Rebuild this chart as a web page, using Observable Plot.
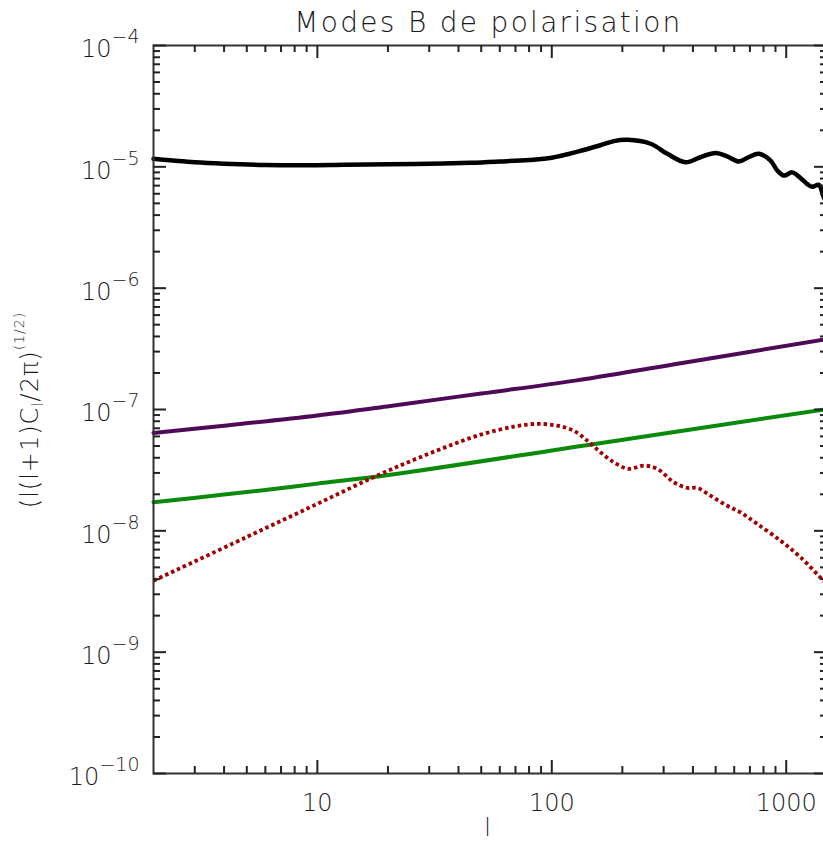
<!DOCTYPE html>
<html><head><meta charset="utf-8">
<script src="https://cdn.jsdelivr.net/npm/d3@7"></script>
<script src="https://cdn.jsdelivr.net/npm/@observablehq/plot@0.6"></script>
<style>
html,body{margin:0;padding:0;background:#fff;overflow:hidden;}
#wrap{width:823px;height:842px;overflow:hidden;position:relative;}
#wrap svg{max-width:none;}
</style></head><body><div id="wrap"></div>
<script>
const title = "Modes B de polarisation";
const xLabel = "l";

// black curve
const lBlack = [2,3,4,6,9,13,20,30,45,60,80,100,130,160,184,210,264,311,372,430,500,560,628,690,764,857,916,978,1061,1150,1231,1292,1378,1442,1500];
const vBlack = [1.164e-5,1.09e-5,1.06e-5,1.035e-5,1.03e-5,1.04e-5,1.05e-5,1.06e-5,1.08e-5,1.107e-5,1.14e-5,1.19e-5,1.34e-5,1.5e-5,1.63e-5,1.67e-5,1.55e-5,1.28e-5,1.09e-5,1.2e-5,1.3e-5,1.22e-5,1.107e-5,1.2e-5,1.28e-5,1.127e-5,9.33e-6,8.48e-6,9.0e-6,8.1e-6,7.2e-6,6.85e-6,7.1e-6,5.7e-6,4.9e-6];

// purple curve
const lPurple = [2,4,10,20.5,50,126,400,1500];
const vPurple = [6.41e-8,7.36e-8,8.93e-8,1.07e-7,1.355e-7,1.73e-7,2.5e-7,3.81e-7];

// green curve
const lGreen = [2,4,6.5,10,20.5,150,1500];
const vGreen = [1.72e-8,1.99e-8,2.21e-8,2.45e-8,2.9e-8,5.18e-8,1.01e-7];

// dotted red curve
const lRed = [2,5,10,18.6,25.8,35.8,49.7,68.9,86.7,105.5,124,141.6,161.4,184,213,247,282,332,379,417,475,560,638,752,945,1151,1442,1500];
const vRed = [3.88e-9,8.9e-9,1.67e-8,2.94e-8,3.85e-8,4.95e-8,6.2e-8,7.23e-8,7.61e-8,7.36e-8,6.69e-8,5.54e-8,4.44e-8,3.67e-8,3.24e-8,3.45e-8,3.24e-8,2.51e-8,2.26e-8,2.26e-8,1.95e-8,1.61e-8,1.42e-8,1.14e-8,8.3e-9,6.05e-9,3.88e-9,3.59e-9];

const xMajor = [10,100,1000];
const xMinor = [3,4,5,6,7,8,9,20,30,40,50,60,70,80,90,200,300,400,500,600,700,800,900];
const yMajor = [1e-10,1e-9,1e-8,1e-7,1e-6,1e-5,1e-4];
const yMinorMult = [2,3,4,5,6,7,8,9];
const yMinor = yMajor.slice(0,-1).flatMap(d => yMinorMult.map(k => k*d));

const toRows = (ls, vs) => ls.map((l,i) => ({l, v: vs[i]}));
const black = toRows(lBlack, vBlack);
const purple = toRows(lPurple, vPurple);
const green = toRows(lGreen, vGreen);
const red = toRows(lRed, vRed);

const FONT = "'DejaVu Sans', 'Liberation Sans', sans-serif";
const sup = {"⁻":"−","⁰":"0","¹":"1","²":"2","³":"3","⁴":"4","⁵":"5","⁶":"6","⁷":"7","⁸":"8","⁹":"9"};
const supInv = Object.fromEntries(Object.entries(sup).map(([a,b]) => [b === "−" ? "-" : b, a]));
const fmtPow = d => "10" + [...String(Math.round(Math.log10(d)))].map(c => supInv[c]).join("");
const AX = "#222";

// layout (pixels)
const W = 828, H = 842, ML = 153, MR = 1, MT = 45, MB = 69;
const PW = W - ML - MR, PH = H - MT - MB;
const MAJ = 13, MIN = 7;
const tk = {stroke: AX, strokeWidth: 2, strokeOpacity: 1};

const chart = Plot.plot({
  width: W, height: H,
  marginLeft: ML, marginRight: MR, marginTop: MT, marginBottom: MB,
  x: {type: "log", domain: [2, 1500], label: null},
  y: {type: "log", domain: [1e-10, 1e-4], label: null},
  style: {fontFamily: FONT, fontSize: "24px", background: "#fff", color: "#1a1a1a"},
  marks: [
    Plot.line(black, {x: "l", y: "v", stroke: "#000", strokeWidth: 4.5, curve: "catmull-rom"}),
    Plot.line(purple, {x: "l", y: "v", stroke: "#4f0a57", strokeWidth: 4, curve: "catmull-rom"}),
    Plot.line(green, {x: "l", y: "v", stroke: "#0a8a0a", strokeWidth: 4, curve: "catmull-rom"}),
    Plot.line(red, {x: "l", y: "v", stroke: "#a00000", strokeWidth: 3.8, strokeDasharray: "3.5 3", strokeLinecap: "butt", curve: "catmull-rom"}),
    Plot.frame({stroke: "#333", strokeWidth: 2}),
    Plot.tickX(xMajor, {x: d => d, insetTop: PH - MAJ, ...tk}),
    Plot.tickX(xMinor, {x: d => d, insetTop: PH - MIN, ...tk}),
    Plot.tickX(xMajor, {x: d => d, insetBottom: PH - MAJ, ...tk}),
    Plot.tickX(xMinor, {x: d => d, insetBottom: PH - MIN, ...tk}),
    Plot.tickY(yMajor, {y: d => d, insetRight: PW - MAJ, ...tk}),
    Plot.tickY(yMinor, {y: d => d, insetRight: PW - MIN, ...tk}),
    Plot.tickY(yMajor, {y: d => d, insetLeft: PW - MAJ, ...tk}),
    Plot.tickY(yMinor, {y: d => d, insetLeft: PW - MIN, ...tk}),
    Plot.axisX({ticks: xMajor, anchor: "bottom", tickSize: 0, tickPadding: 20.5, tickFormat: d => String(d), label: null, fontWeight: 200}),
    Plot.axisY({ticks: yMajor, anchor: "left", tickSize: 0, tickPadding: 14, dy: 4, tickFormat: fmtPow, label: null, fontWeight: 200}),
    Plot.text([title], {text: d => d, frameAnchor: "top", lineAnchor: "middle", dx: -2, dy: -22.5, fontSize: 28, fontWeight: 200}),
    Plot.text([xLabel], {text: d => d, frameAnchor: "bottom", lineAnchor: "middle", dx: -3, dy: 55, fontSize: 24, fontWeight: 200})
  ]
});

const svg = d3.select(chart);
svg.selectAll('g[aria-label="y-axis tick label"] text').each(function() {
  const t = d3.select(this);
  const s = t.text();
  if (!s) return;
  const exp = [...s.slice(2)].map(c => sup[c] ?? c).join("");
  t.text(null);
  t.append("tspan").text("10");
  t.append("tspan").attr("dy", -14).attr("font-size", 19).text(exp);
});

svg.selectAll("text").filter(function() { return this.textContent === title; }).attr("letter-spacing", 2.3);

const yl = svg.append("text")
  .attr("transform", "translate(38,410) rotate(-90)")
  .attr("text-anchor", "middle")
  .attr("font-family", FONT)
  .attr("font-size", 24)
  .attr("font-weight", 200)
  .attr("fill", "#1a1a1a")
  .attr("letter-spacing", 1);
yl.append("tspan").text("(l(l+1)C");
yl.append("tspan").attr("font-size", 15).attr("dy", 5).text("l");
yl.append("tspan").attr("dy", -5).text("/2π)");
yl.append("tspan").attr("font-size", 14).attr("dy", -14).text("(1/2)");

document.getElementById("wrap").appendChild(chart);
</script></body></html>
